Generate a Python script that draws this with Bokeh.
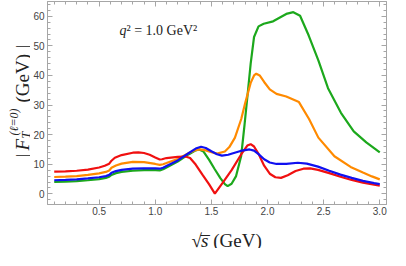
import math
from bokeh.plotting import figure
from bokeh.layouts import row, column
from bokeh.models import (Range1d, SingleIntervalTicker, LinearAxis, Label,
                          PrintfTickFormatter, CustomJSTickFormatter)
from bokeh.embed import file_html
from bokeh.resources import INLINE

# ---- data ----
red_x = [0.1, 0.2, 0.3, 0.4, 0.5, 0.55, 0.59, 0.61, 0.64, 0.7, 0.8, 0.85, 0.9, 0.95, 1.0, 1.04, 1.06, 1.1,
         1.2, 1.27, 1.31, 1.36, 1.42, 1.48, 1.531, 1.6, 1.68, 1.765, 1.82, 1.85, 1.88, 1.92, 1.97, 2.02,
         2.07, 2.12, 2.18, 2.25, 2.32, 2.38, 2.45, 2.55, 2.65, 2.75, 2.85, 2.95, 3.0]
red_y = [7.5, 7.6, 7.8, 8.2, 8.9, 9.5, 10.2, 11.2, 12.2, 13.1, 13.9, 14.0, 13.8, 13.2, 12.3, 11.6, 11.7, 12.1,
         12.5, 12.6, 12.1, 9.9, 6.5, 3.2, 0.1, 3.7, 8.0, 13.3, 16.3, 16.8, 16.0, 13.5, 9.5, 6.8,
         5.6, 5.4, 6.3, 7.7, 8.5, 8.6, 8.1, 7.0, 5.8, 4.7, 3.8, 3.1, 2.8]

blue_x = [0.1, 0.2, 0.3, 0.4, 0.5, 0.56, 0.59, 0.61, 0.65, 0.7, 0.8, 0.9, 1.0, 1.04, 1.07, 1.1, 1.2, 1.3,
          1.36, 1.408, 1.45, 1.5, 1.55, 1.594, 1.65, 1.7, 1.76, 1.84, 1.88, 1.92, 1.97, 2.02, 2.08, 2.167,
          2.27, 2.35, 2.45, 2.55, 2.65, 2.75, 2.85, 2.95, 3.0]
blue_y = [4.6, 4.7, 4.9, 5.2, 5.6, 6.0, 6.4, 7.1, 7.7, 8.1, 8.5, 8.6, 8.6, 8.5, 8.8, 9.4, 11.3, 13.8,
          15.3, 15.9, 15.5, 14.4, 13.4, 12.9, 13.2, 13.8, 14.5, 15.0, 14.6, 13.4, 11.7, 10.6, 10.1, 10.1,
          10.5, 10.2, 9.2, 7.8, 6.5, 5.4, 4.4, 3.6, 3.3]

orange_x = [0.1, 0.2, 0.3, 0.4, 0.5, 0.56, 0.59, 0.61, 0.65, 0.7, 0.8, 0.9, 1.0, 1.04, 1.07, 1.1, 1.2, 1.3,
            1.36, 1.4, 1.45, 1.5, 1.55, 1.62, 1.66, 1.71, 1.766, 1.8, 1.85, 1.88, 1.9, 1.93, 1.97, 2.02,
            2.08, 2.167, 2.28, 2.37, 2.453, 2.596, 2.74, 2.85, 2.93, 3.0]
orange_y = [5.7, 5.8, 6.0, 6.4, 6.9, 7.4, 7.9, 8.8, 9.6, 10.2, 10.8, 10.7, 10.1, 9.8, 10.0, 10.4, 11.8, 13.8,
            14.8, 15.0, 14.7, 14.1, 13.6, 14.3, 15.8, 19.0, 25.3, 30.5, 37.5, 40.0, 40.6, 40.0, 37.8, 35.3,
            33.8, 32.9, 31.0, 25.3, 19.0, 12.7, 9.1, 7.2, 5.9, 4.9]

green_x = [0.1, 0.2, 0.3, 0.4, 0.5, 0.56, 0.59, 0.61, 0.65, 0.7, 0.8, 0.9, 1.0, 1.04, 1.07, 1.1, 1.2, 1.3,
           1.36, 1.39, 1.43, 1.48, 1.53, 1.58, 1.62, 1.645, 1.68, 1.72, 1.765, 1.795, 1.823, 1.85, 1.88,
           1.92, 1.966, 2.05, 2.167, 2.23, 2.29, 2.367, 2.453, 2.539, 2.654, 2.768, 2.88, 3.0]
green_y = [4.0, 4.1, 4.3, 4.6, 5.0, 5.4, 5.8, 6.4, 7.0, 7.4, 7.8, 8.0, 8.0, 7.9, 8.3, 8.9, 10.9, 13.4,
           14.7, 15.0, 14.3, 11.5, 8.3, 5.3, 3.3, 2.6, 3.4, 6.0, 12.7, 23.2, 33.7, 44.0, 53.0,
           56.6, 57.5, 58.3, 60.8, 61.4, 60.2, 53.5, 45.1, 35.7, 27.4, 21.1, 17.4, 14.0]

x_ticks_interval = 0.5
y_ticks_interval = 10

FRAME = "#a6a6a6"
SERIF = "Liberation Serif"
TXT = "#222222"

# ---------------- main plot ----------------
p = figure(width=358, height=218, output_backend="svg", toolbar_location=None, title_location=None,
           x_range=Range1d(0.04, 3.06), y_range=Range1d(-3.6, 65),
           min_border_left=15, min_border_right=2, min_border_top=1, min_border_bottom=14)
p.xgrid.visible = False
p.ygrid.visible = False
p.outline_line_color = FRAME
p.background_fill_color = "white"
p.border_fill_color = "white"

def style_axis(ax, labels=True):
    ax.axis_label = None
    ax.axis_label_standoff = 0
    ax.axis_line_color = FRAME
    ax.major_tick_line_color = FRAME
    ax.minor_tick_line_color = FRAME
    ax.major_tick_in = 5
    ax.major_tick_out = 0
    ax.minor_tick_in = 3
    ax.minor_tick_out = 0
    ax.major_label_text_font = "Liberation Sans"
    ax.major_label_text_font_size = "10px" if labels else "1px"
    ax.major_label_text_color = "#444444"
    ax.major_label_standoff = 3 if labels else 0
    if not labels:
        ax.formatter = CustomJSTickFormatter(code="return ''")

p.xaxis.ticker = SingleIntervalTicker(interval=x_ticks_interval, num_minor_ticks=5)
p.yaxis.ticker = SingleIntervalTicker(interval=y_ticks_interval, num_minor_ticks=5)
p.xaxis.formatter = PrintfTickFormatter(format="%.1f")
style_axis(p.xaxis[0])
style_axis(p.yaxis[0])
p.xaxis.major_label_standoff = 2

top = LinearAxis(ticker=SingleIntervalTicker(interval=x_ticks_interval, num_minor_ticks=5))
right = LinearAxis(ticker=SingleIntervalTicker(interval=y_ticks_interval, num_minor_ticks=5))
style_axis(top, labels=False)
style_axis(right, labels=False)
p.add_layout(top, "above")
p.add_layout(right, "right")

lw = 2.2
p.line(green_x, green_y, line_color="#1ca81c", line_width=lw)
p.line(orange_x, orange_y, line_color="#ff8a00", line_width=lw)
p.line(red_x, red_y, line_color="#f01010", line_width=lw)
p.line(blue_x, blue_y, line_color="#1010f0", line_width=lw)

def lab(fig, text, x, y, size, italic=False, angle=0.0, units="screen"):
    fig.add_layout(Label(x=x, y=y, x_units=units, y_units=units, text=text, angle=angle,
                         text_font=SERIF, text_font_size=size,
                         text_font_style="italic" if italic else "normal",
                         text_color=TXT, text_align="left", text_baseline="alphabetic"))

# in-plot annotation
lab(p, "q", 72, 174, "14px", italic=True)
lab(p, "² = 1.0 GeV²", 79, 174, "14px")

# ---------------- y-axis title panel ----------------
yl = figure(width=30, height=248, output_backend="svg", toolbar_location=None, title_location=None,
            x_range=Range1d(0, 30), y_range=Range1d(0, 248),
            min_border=0, min_border_left=0, min_border_right=0, min_border_top=0, min_border_bottom=0)
yl.axis.visible = False
yl.grid.visible = False
yl.outline_line_color = None
A = math.pi / 2
lab(yl, "|", 22, 91, "19px", angle=A, units="data")
lab(yl, "F", 22, 98, "19px", italic=True, angle=A, units="data")
lab(yl, "T", 25, 110, "12px", italic=True, angle=A, units="data")
lab(yl, "(ℓ=0)", 13, 113, "12px", italic=True, angle=A, units="data")
lab(yl, "(GeV)", 22, 146, "19px", angle=A, units="data")
lab(yl, "|", 22, 200, "19px", angle=A, units="data")

# ---------------- x-axis title panel ----------------
xl = figure(width=358, height=30, output_backend="svg", toolbar_location=None, title_location=None,
            x_range=Range1d(0, 358), y_range=Range1d(0, 30),
            min_border=0, min_border_left=0, min_border_right=0, min_border_top=0, min_border_bottom=0)
xl.axis.visible = False
xl.grid.visible = False
xl.outline_line_color = None
lab(xl, "√", 152, 8, "19px", units="data")
lab(xl, "s̅", 162, 8, "19px", italic=True, units="data")
lab(xl, "(GeV)", 175, 8, "19px", units="data")

layout = row(yl, column(p, xl, spacing=0), spacing=0)
open("out.html", "w").write(file_html(layout, INLINE))
